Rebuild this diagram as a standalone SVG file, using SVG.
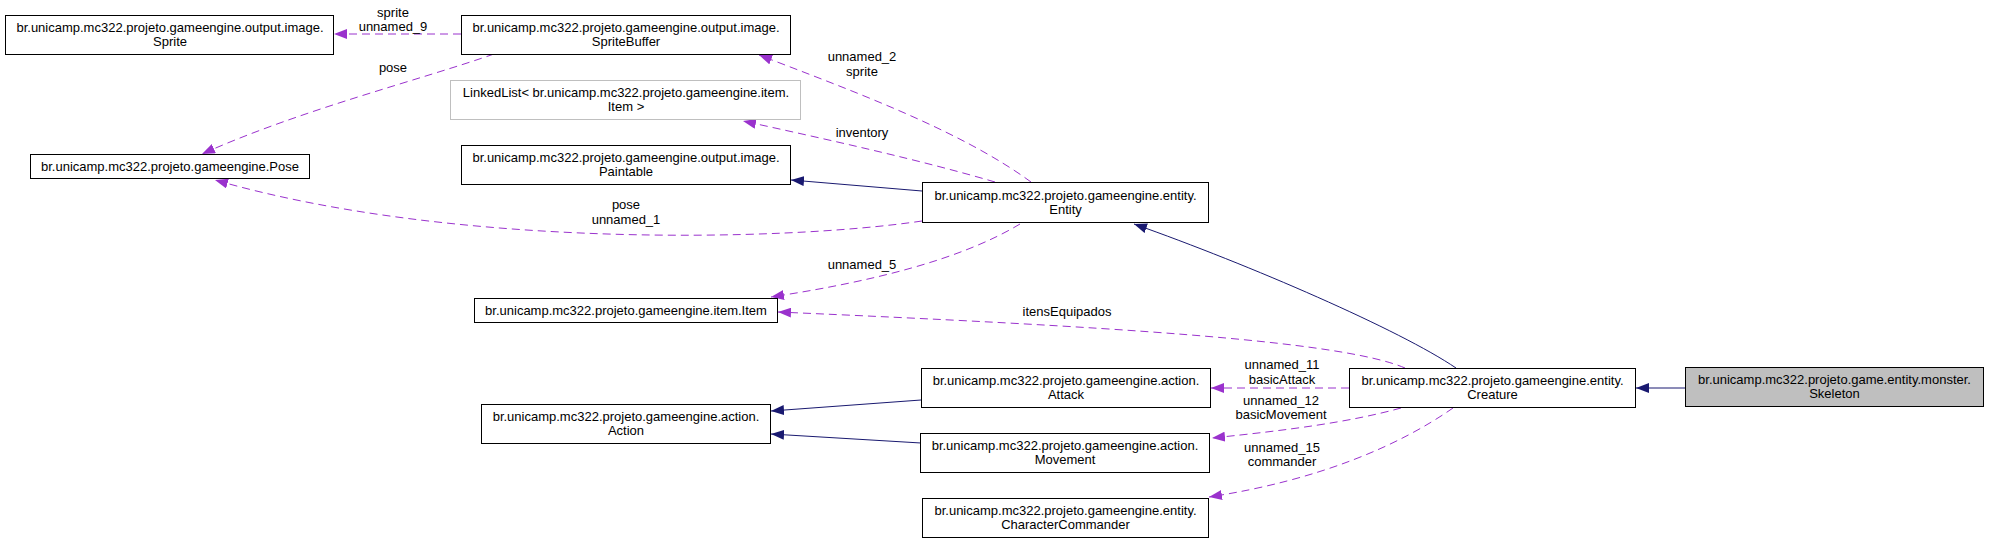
<svg xmlns="http://www.w3.org/2000/svg" width="1989" height="545" viewBox="0 0 1989 545">
<style>
.n rect{fill:#fff;stroke:#000;stroke-width:1}
.n text,.lbl text{font-family:"Liberation Sans",Arial,sans-serif;font-size:13px;fill:#000;text-anchor:middle}
.dep{fill:none;stroke:#9a32cd;stroke-width:1;stroke-dasharray:8,5;marker-end:url(#ap)}
.inh{fill:none;stroke:#191970;stroke-width:1;marker-end:url(#ab)}
</style>
<defs>
<marker id="ap" viewBox="0 0 13 10" refX="13" refY="5" markerWidth="13" markerHeight="10" markerUnits="userSpaceOnUse" orient="auto"><path d="M0,0 L13,5 L0,10 z" fill="#9a32cd"/></marker>
<marker id="ab" viewBox="0 0 13 10" refX="13" refY="5" markerWidth="13" markerHeight="10" markerUnits="userSpaceOnUse" orient="auto"><path d="M0,0 L13,5 L0,10 z" fill="#191970"/></marker>
</defs>
<rect width="1989" height="545" fill="#fff"/>
<g id="connectors">
<path class="dep" d="M461,34 L334,34"/>
<path class="dep" d="M494,54 C420,80 300,110 202,154"/>
<path class="dep" d="M1031,182 C960,130 850,90 759,55"/>
<path class="dep" d="M995,182 C920,160 830,140 743,121"/>
<path class="inh" d="M922,191 L791,180"/>
<path class="dep" d="M922,221 C780,242 450,248 215,180"/>
<path class="dep" d="M1020,224 C960,260 870,282 771,297"/>
<path class="inh" d="M1456,368 C1400,330 1250,265 1134,224"/>
<path class="dep" d="M1405,368 C1340,340 1100,326 778,312"/>
<path class="dep" d="M1349,388 L1211,388"/>
<path class="dep" d="M1401,408 C1350,422 1290,430 1212,438"/>
<path class="dep" d="M1453,408 C1400,445 1320,480 1209,497"/>
<path class="inh" d="M921,400 L771,411"/>
<path class="inh" d="M921,443 L771,434"/>
<path class="inh" d="M1685,388 L1636,388"/>
</g>
<g class="lbl" id="labels">
<text x="393" y="16.5">sprite</text><text x="393" y="30.5">unnamed_9</text>
<text x="393" y="71.5">pose</text>
<text x="862" y="60.5">unnamed_2</text><text x="862" y="75.5">sprite</text>
<text x="862" y="136.5">inventory</text>
<text x="626" y="208.5">pose</text><text x="626" y="223.5">unnamed_1</text>
<text x="862" y="268.5">unnamed_5</text>
<text x="1067" y="315.5">itensEquipados</text>
<text x="1282" y="368.5">unnamed_11</text><text x="1282" y="383.5">basicAttack</text>
<text x="1281" y="404.5">unnamed_12</text><text x="1281" y="418.5">basicMovement</text>
<text x="1282" y="451.5">unnamed_15</text><text x="1282" y="465.5">commander</text>
</g>
<g class="n" id="sprite"><rect x="5.5" y="15.5" width="328" height="39"/><text x="170" y="31.5">br.unicamp.mc322.projeto.gameengine.output.image.</text><text x="170" y="45.5">Sprite</text></g>
<g class="n" id="spritebuffer"><rect x="461.5" y="15.5" width="329" height="39"/><text x="626" y="31.5">br.unicamp.mc322.projeto.gameengine.output.image.</text><text x="626" y="45.5">SpriteBuffer</text></g>
<g class="n" id="linkedlist"><rect x="450.5" y="80.5" width="350" height="39" style="stroke:#bfbfbf"/><text x="626" y="96.5">LinkedList&lt; br.unicamp.mc322.projeto.gameengine.item.</text><text x="626" y="110.5">Item &gt;</text></g>
<g class="n" id="paintable"><rect x="461.5" y="145.5" width="329" height="39"/><text x="626" y="161.5">br.unicamp.mc322.projeto.gameengine.output.image.</text><text x="626" y="175.5">Paintable</text></g>
<g class="n" id="pose"><rect x="30.5" y="154.5" width="279" height="24"/><text x="170" y="170.5">br.unicamp.mc322.projeto.gameengine.Pose</text></g>
<g class="n" id="entity"><rect x="922.5" y="182.5" width="286" height="40"/><text x="1065.5" y="199.5">br.unicamp.mc322.projeto.gameengine.entity.</text><text x="1065.5" y="213.5">Entity</text></g>
<g class="n" id="item"><rect x="474.5" y="298.5" width="303" height="24"/><text x="626" y="314.5">br.unicamp.mc322.projeto.gameengine.item.Item</text></g>
<g class="n" id="action"><rect x="481.5" y="404.5" width="289" height="39"/><text x="626" y="421">br.unicamp.mc322.projeto.gameengine.action.</text><text x="626" y="435">Action</text></g>
<g class="n" id="attack"><rect x="921.5" y="368.5" width="289" height="39"/><text x="1066" y="384.5">br.unicamp.mc322.projeto.gameengine.action.</text><text x="1066" y="398.5">Attack</text></g>
<g class="n" id="movement"><rect x="920.5" y="433.5" width="289" height="39"/><text x="1065" y="449.5">br.unicamp.mc322.projeto.gameengine.action.</text><text x="1065" y="463.5">Movement</text></g>
<g class="n" id="charactercommander"><rect x="922.5" y="498.5" width="286" height="39"/><text x="1065.5" y="514.5">br.unicamp.mc322.projeto.gameengine.entity.</text><text x="1065.5" y="528.5">CharacterCommander</text></g>
<g class="n" id="creature"><rect x="1349.5" y="368.5" width="286" height="39"/><text x="1492.5" y="384.5">br.unicamp.mc322.projeto.gameengine.entity.</text><text x="1492.5" y="398.5">Creature</text></g>
<g class="n" id="skeleton"><rect x="1685.5" y="367.5" width="298" height="39" style="fill:#bfbfbf"/><text x="1834.5" y="383.5">br.unicamp.mc322.projeto.game.entity.monster.</text><text x="1834.5" y="397.5">Skeleton</text></g>
</svg>
